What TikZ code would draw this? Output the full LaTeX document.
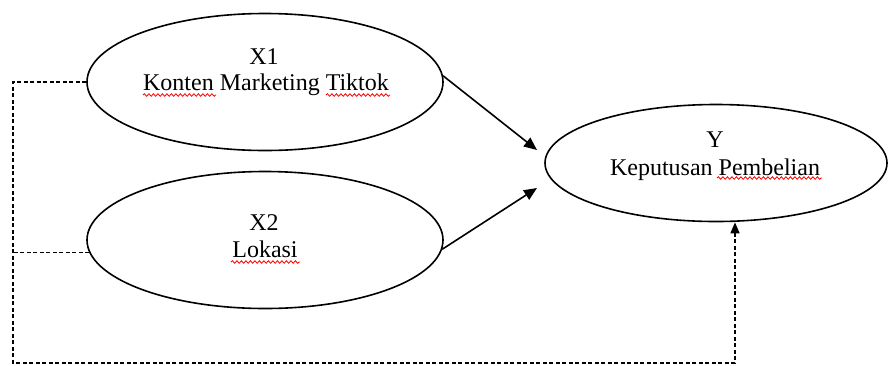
\documentclass[tikz,border=0pt]{standalone}
\usepackage{fontspec}
\setmainfont{Liberation Serif}
\usetikzlibrary{arrows.meta,shapes.geometric,decorations.pathmorphing}
\begin{document}
\begin{tikzpicture}[x=1pt,y=-1pt,
  latent/.style={draw, ellipse, line width=1.6pt, inner sep=0pt},
  lbl/.style={anchor=base, inner sep=0pt, font=\fontsize{24}{28}\selectfont},
  path/.style={line width=1.6pt, -{Triangle[length=13pt,width=11pt]}},
  dotline/.style={line width=1.4pt, dash pattern=on 4pt off 2.5pt},
  spell/.style={red, line width=0.8pt, decorate, decoration={snake, amplitude=1.3pt, segment length=4.5pt}}
]
\useasboundingbox (0,0) rectangle (889,365);

\node[latent, minimum width=356pt, minimum height=137pt] (X1) at (265,82) {};
\node[latent, minimum width=356pt, minimum height=137pt] (X2) at (265,240) {};
\node[latent, minimum width=342pt, minimum height=117pt] (Y) at (716,163) {};

\node[lbl] (t1a) at (264,64) {X1};
\node[lbl] (t1b) at (266,90) {Konten Marketing Tiktok};
\node[lbl] (t2a) at (264,230) {X2};
\node[lbl] (t2b) at (265,257) {Lokasi};
\node[lbl] (tya) at (715,147) {Y};
\node[lbl] (tyb) at (715,175) {Keputusan Pembelian};

\draw[spell] (143,95) -- (216,95);
\draw[spell] (326,95) -- (390,95);
\draw[spell] (231,262) -- (300,262);
\draw[spell] (717,178) -- (822,178);

\coordinate (a1) at (537,150);
\coordinate (a2) at (537,188);
\draw[path] (X1.2) -- (a1);
\draw[path] (X2.-3) -- (a2);

\coordinate (c1) at (13,363);
\coordinate (c2) at (735,363);
\draw[dotline] (X2.184) -- (c1 |- X2.184);
\draw[dotline, -{Triangle[length=11pt,width=9pt]}] (X1.west) -| (c1) -- (c2) -- (c2 |- Y.south);
\end{tikzpicture}
\end{document}
